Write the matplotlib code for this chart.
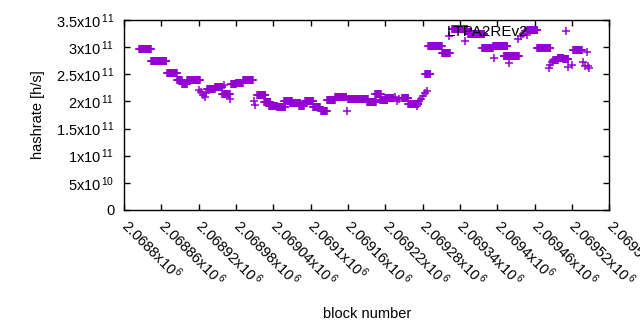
import matplotlib
matplotlib.use("Agg")
import matplotlib.pyplot as plt
from matplotlib.ticker import FixedLocator, FuncFormatter
import numpy as np

plt.rcParams['font.family'] = ['Liberation Sans', 'DejaVu Sans']
plt.rcParams['mathtext.fontset'] = 'custom'
plt.rcParams['mathtext.rm'] = 'Liberation Sans'
plt.rcParams['mathtext.it'] = 'Liberation Sans'

# runs of consecutive blocks with a (nearly) constant hashrate
run_start = [2068824, 2068843, 2068869, 2068885, 2068893, 2068901, 2068933, 2068946,
             2068958, 2068972, 2068980, 2068991, 2069014, 2069025, 2069033, 2069046,
             2069057, 2069067, 2069081, 2069091, 2069104, 2069117, 2069126, 2069139,
             2069160, 2069191, 2069204, 2069212, 2069220, 2069247, 2069257, 2069284,
             2069289, 2069311, 2069327, 2069353, 2069376, 2069393, 2069410, 2069448,
             2069464, 2069490, 2069497, 2069506, 2069522]
run_end = [2068843, 2068868, 2068885, 2068893, 2068901, 2068922, 2068946, 2068958,
           2068970, 2068980, 2068991, 2069007, 2069027, 2069035, 2069046, 2069059,
           2069070, 2069083, 2069089, 2069104, 2069115, 2069126, 2069139, 2069157,
           2069192, 2069205, 2069213, 2069223, 2069233, 2069257, 2069273, 2069292,
           2069311, 2069324, 2069352, 2069379, 2069393, 2069416, 2069435, 2069464,
           2069485, 2069497, 2069506, 2069514, 2069536]
run_rate = [2.96e11, 2.75e11, 2.52e11, 2.39e11, 2.32e11, 2.40e11, 2.23e11, 2.26e11,
            2.14e11, 2.32e11, 2.34e11, 2.39e11, 2.12e11, 1.99e11, 1.92e11, 1.89e11,
            2.00e11, 1.97e11, 1.92e11, 2.00e11, 1.90e11, 1.82e11, 2.03e11, 2.08e11,
            2.04e11, 1.99e11, 2.13e11, 2.03e11, 2.06e11, 2.06e11, 1.96e11, 2.50e11,
            3.03e11, 2.89e11, 3.34e11, 3.25e11, 2.98e11, 3.02e11, 2.84e11, 3.31e11,
            2.98e11, 2.77e11, 2.81e11, 2.79e11, 2.94e11]

# single scattered blocks
single_block = [2068921, 2068924, 2068927, 2068930, 2068932, 2068961, 2068970, 2069009,
                2069011, 2069159, 2069236, 2069239, 2069242, 2069271, 2069274, 2069278,
                2069281, 2069284, 2069287, 2069323, 2069348, 2069395, 2069418, 2069434,
                2069438, 2069442, 2069445, 2069447, 2069483, 2069485, 2069488, 2069514,
                2069520, 2069538, 2069541, 2069545, 2069548, 2069544]
single_rate = [2.22e11, 2.17e11, 2.12e11, 2.08e11, 2.15e11, 2.31e11, 2.04e11, 2.00e11,
               1.93e11, 1.82e11, 2.08e11, 2.00e11, 2.04e11, 1.92e11, 2.00e11, 2.04e11,
               2.10e11, 2.15e11, 2.20e11, 3.20e11, 3.11e11, 2.80e11, 2.71e11, 3.15e11,
               3.20e11, 3.25e11, 3.30e11, 3.22e11, 2.62e11, 2.68e11, 2.73e11, 2.63e11,
               2.67e11, 2.72e11, 2.66e11, 2.65e11, 2.62e11, 2.91e11]

xticks = np.arange(2068800, 2069581, 60)
yticks = [0, 0.5e11, 1e11, 1.5e11, 2e11, 2.5e11, 3e11, 3.5e11]

blocks = []
rates = []
for s, e, r in zip(run_start, run_end, run_rate):
    b = np.arange(s, e + 1)
    blocks.extend(b)
    rates.extend([r] * len(b))
blocks.extend(single_block)
rates.extend(single_rate)

fig = plt.figure(figsize=(6.4, 3.3), dpi=100)
ax = fig.add_axes([0.194, 0.364, 0.758, 0.575])
ax.plot(blocks, rates, '+', color='#9400d3', ms=6, mew=1.1, label='LTPA2REv2')

ax.set_xlim(2068800, 2069580)
ax.set_ylim(0, 3.5e11)


def sci(v):
    if v == 0:
        return '0'
    exp = int(np.floor(np.log10(abs(v))))
    mant = f'{v / 10**exp:.6g}'
    return f'{mant}x10$^{{\\,{exp}}}$'


ax.xaxis.set_major_locator(FixedLocator(xticks))
ax.yaxis.set_major_locator(FixedLocator(yticks))
ax.xaxis.set_major_formatter(FuncFormatter(lambda v, p: sci(v)))
ax.yaxis.set_major_formatter(FuncFormatter(lambda v, p: sci(v)))
ax.tick_params(direction='in', length=4, width=1, top=True, right=True,
               labelsize=10.5, colors='black')
ax.tick_params(axis='y', pad=7)
ax.tick_params(axis='x', pad=9)
for lab in ax.get_xticklabels():
    lab.set_rotation(-45)
    lab.set_ha('left')
    lab.set_va('center')
    lab.set_rotation_mode('anchor')
for sp in ax.spines.values():
    sp.set_linewidth(1)

ax.set_xlabel('block number', fontsize=10.5)
ax.set_ylabel('hashrate [h/s]', fontsize=10.5, labelpad=8)
ax.xaxis.set_label_coords(0.5, -0.51)

leg = ax.legend(loc='center right', bbox_to_anchor=(0.957, 0.937), frameon=False,
                markerfirst=False, handlelength=3, handletextpad=0.9, borderpad=0,
                borderaxespad=0, fontsize=11)
leg.set_zorder(10)

fig.savefig('out.png', dpi=100)
